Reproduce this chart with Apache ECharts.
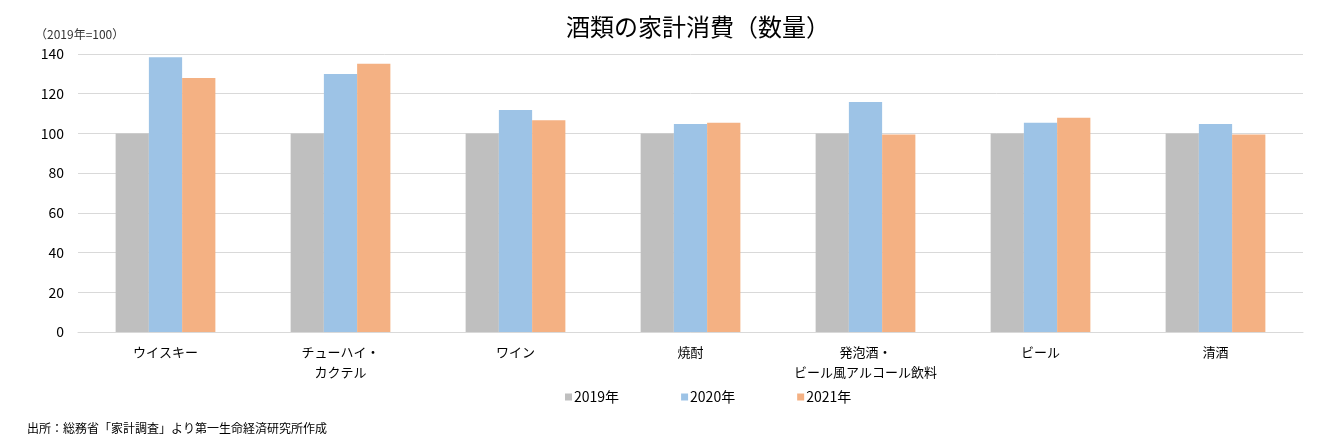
<!DOCTYPE html>
<html>
<head>
<meta charset="utf-8">
<script src="https://cdn.jsdelivr.net/npm/echarts@6/dist/echarts.min.js"></script>
<style>
  html, body { margin: 0; padding: 0; background: #fff; }
  #chart { width: 1342px; height: 439px; }
</style>
</head>
<body>
<div id="chart"></div>
<script>
const categories = ['ウイスキー', 'チューハイ・\nカクテル', 'ワイン', '焼酎', '発泡酒・\nビール風アルコール飲料', 'ビール', '清酒']
const seriesNames = ['2019年', '2020年', '2021年']
const values2019 = [100, 100, 100, 100, 100, 100, 100]
const values2020 = [138.4, 129.9, 111.8, 104.7, 115.8, 105.4, 104.7]
const values2021 = [127.9, 135.1, 106.6, 105.4, 99.5, 107.9, 99.5]
const yTicks = [0, 140, 20]

const font = '"Noto Sans CJK JP", "Noto Sans", sans-serif'
const chart = echarts.init(document.getElementById('chart'))

const makeBar = (name, data, color) => ({
  name: name,
  type: 'bar',
  data: data,
  barGap: '0%',
  barCategoryGap: '43%',
  itemStyle: { color: color },
  emphasis: { disabled: true }
})

chart.setOption({
  animation: false,
  textStyle: { fontFamily: font },
  title: [
    {
      text: '酒類の家計消費（数量）',
      left: 561,
      top: 10,
      textStyle: { fontSize: 24, fontWeight: 'normal', color: '#000', fontFamily: font }
    },
    {
      text: '（2019年=100）',
      left: 30,
      top: 23,
      textStyle: { fontSize: 12, fontWeight: 'normal', color: '#333', fontFamily: font }
    },
    {
      text: '出所：総務省「家計調査」より第一生命経済研究所作成',
      left: 22,
      top: 417,
      textStyle: { fontSize: 12, fontWeight: 'normal', color: '#000', fontFamily: font }
    }
  ],
  legend: {
    data: seriesNames,
    top: 385,
    left: 560,
    icon: 'rect',
    itemWidth: 7,
    itemHeight: 7,
    itemGap: 62,
    textStyle: { fontSize: 14, color: '#000', fontFamily: font, padding: [0, 0, 0, -3] }
  },
  grid: {
    left: 78,
    right: 39,
    top: 54,
    bottom: 107
  },
  xAxis: {
    type: 'category',
    data: categories,
    axisLine: { lineStyle: { color: '#d9d9d9' } },
    axisTick: { show: false },
    axisLabel: { interval: 0, fontSize: 13, color: '#000', margin: 10, lineHeight: 20, fontFamily: font }
  },
  yAxis: {
    type: 'value',
    min: yTicks[0],
    max: yTicks[1],
    interval: yTicks[2],
    axisLine: { show: false },
    axisTick: { show: false },
    axisLabel: { fontSize: 14, color: '#000', margin: 14, fontFamily: font },
    splitLine: { lineStyle: { color: '#d9d9d9' } }
  },
  series: [
    makeBar(seriesNames[0], values2019, '#bfbfbf'),
    makeBar(seriesNames[1], values2020, '#9dc3e6'),
    makeBar(seriesNames[2], values2021, '#f4b183')
  ]
})
</script>
</body>
</html>
